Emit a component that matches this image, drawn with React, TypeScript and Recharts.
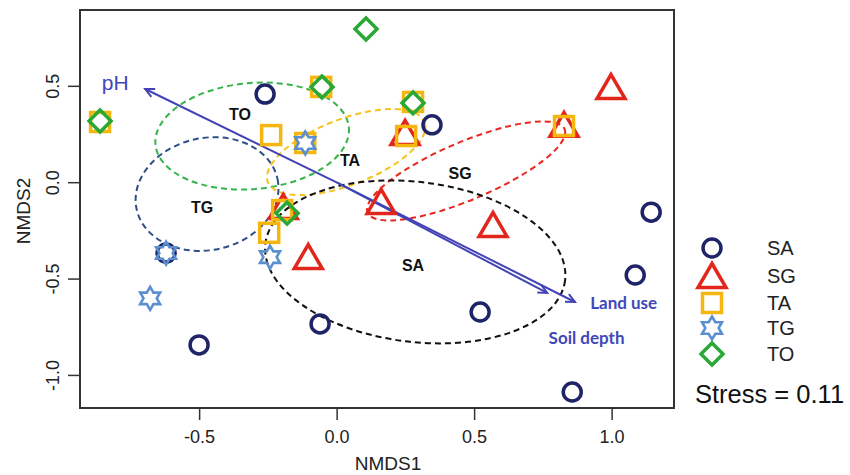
import {
  ReferenceArea,
  ReferenceDot,
  ReferenceLine,
  Label,
  Scatter,
  ScatterChart,
  XAxis,
  YAxis,
} from "recharts";

const FONT = "'Liberation Sans', Arial, sans-serif";
const VEC_FONT = "Lato, 'Open Sans', sans-serif";

// site scores, one pair of arrays per group
const SA_X = [-0.262, 0.345, 1.142, 1.084, 0.52, -0.062, -0.502, 0.855, -0.622];
const SA_Y = [0.46, 0.3, -0.153, -0.479, -0.671, -0.733, -0.842, -1.086, -0.365];
const SG_X = [0.996, 0.825, 0.247, 0.16, 0.567, -0.105, -0.196];
const SG_Y = [0.496, 0.3, 0.258, -0.1, -0.22, -0.386, -0.126];
const TA_X = [-0.862, -0.24, -0.058, 0.276, 0.251, 0.825, -0.116, -0.2, -0.247];
const TA_Y = [0.315, 0.247, 0.497, 0.419, 0.242, 0.294, 0.206, -0.142, -0.26];
const TG_X = [-0.116, -0.622, -0.244, -0.68];
const TG_Y = [0.206, -0.365, -0.386, -0.6];
const TO_X = [0.105, -0.055, 0.276, -0.862, -0.182];
const TO_Y = [0.797, 0.497, 0.414, 0.32, -0.158];

const GROUPS = ["SA", "SG", "TA", "TG", "TO"];
const COLORS: Record<string, string> = {
  SA: "#1f2468",
  SG: "#e3261c",
  TA: "#f5b60f",
  TG: "#5b8fce",
  TO: "#2aa836",
};
const ELL_COLORS: Record<string, string> = {
  SA: "#111111",
  SG: "#e8281f",
  TA: "#f6c21c",
  TG: "#2d4e86",
  TO: "#34b44a",
};

// group ellipses: centre, semi-axes (data units) and tilt in degrees
const ELL_GROUP = ["TO", "TG", "TA", "SG", "SA"];
const ELL_CX = [-0.309, -0.473, 0.033, 0.469, 0.284];
const ELL_CY = [0.242, -0.059, 0.159, 0.061, -0.411];
const ELL_RX = [0.353, 0.262, 0.305, 0.389, 0.549];
const ELL_RY = [0.275, 0.291, 0.171, 0.15, 0.415];
const ELL_TILT = [-5, -12, -21, -23, 7];

// group name labels
const LBL_TEXT = ["TO", "TA", "SG", "TG", "SA"];
const LBL_X = [-0.353, 0.047, 0.447, -0.491, 0.276];
const LBL_Y = [0.352, 0.118, 0.05, -0.127, -0.427];

// fitted environmental vectors
const VEC_NAME = ["pH", "Land use", "Soil depth"];
const VEC_X = [-0.698, 0.865, 0.764];
const VEC_Y = [0.486, -0.619, -0.572];
const VEC_LX = [-0.807, 1.042, 0.907];
const VEC_LY = [0.518, -0.625, -0.806];

const X_DOMAIN = [-0.935, 1.225];
const Y_DOMAIN = [-1.169, 0.896];
const X_TICKS = [-0.5, 0, 0.5, 1];
const Y_TICKS = [-1, -0.5, 0, 0.5];

const ARROW = "#4343b6";
const VEC_TEXT = "#4048bb";

const rows = (xs: number[], ys: number[]) => xs.map((x, i) => ({ x, y: ys[i] }));
const SERIES: Record<string, { x: number; y: number }[]> = {
  SA: rows(SA_X, SA_Y),
  SG: rows(SG_X, SG_Y),
  TA: rows(TA_X, TA_Y),
  TG: rows(TG_X, TG_Y),
  TO: rows(TO_X, TO_Y),
};

function hexagram(cx: number, cy: number, R: number) {
  const r = R / Math.sqrt(3);
  const pts: string[] = [];
  for (let k = 0; k < 12; k++) {
    const a = ((-90 + 30 * k) * Math.PI) / 180;
    const rad = k % 2 === 0 ? R : r;
    pts.push(`${cx + rad * Math.cos(a)},${cy + rad * Math.sin(a)}`);
  }
  return `M${pts.join("L")}Z`;
}

function Marker({ kind, cx, cy }: { kind: string; cx: number; cy: number }) {
  const c = COLORS[kind];
  const common = { fill: "none", stroke: c, strokeWidth: 3.5, strokeLinejoin: "miter" as const };
  switch (kind) {
    case "SA":
      return <circle cx={cx} cy={cy} r={9} {...common} />;
    case "SG":
      return (
        <path
          d={`M${cx},${cy - 12.5}L${cx + 14},${cy + 11.5}L${cx - 14},${cy + 11.5}Z`}
          {...common}
        />
      );
    case "TA":
      return <rect x={cx - 9.5} y={cy - 9.5} width={19} height={19} {...common} />;
    case "TG":
      return <path d={hexagram(cx, cy, 11.5)} {...common} strokeWidth={2.6} />;
    default:
      return (
        <path
          d={`M${cx},${cy - 11}L${cx + 11},${cy}L${cx},${cy + 11}L${cx - 11},${cy}Z`}
          {...common}
        />
      );
  }
}

const fmt = (v: number) => v.toFixed(1);

function XTick({ x, y, payload }: any) {
  return (
    <text x={x} y={y + 21} textAnchor="middle" fontSize={18} fill="#222" fontFamily={FONT}>
      {fmt(payload.value)}
    </text>
  );
}

function YTick({ x, y, payload }: any) {
  const cx = x - 13;
  return (
    <text
      x={cx}
      y={y}
      dy="0.35em"
      transform={`rotate(-90 ${cx} ${y})`}
      textAnchor="middle"
      fontSize={18}
      fill="#222"
      fontFamily={FONT}
    >
      {fmt(payload.value)}
    </text>
  );
}

function arrowShape(p: any) {
  const { x1, y1, x2, y2 } = p;
  const ang = Math.atan2(y2 - y1, x2 - x1);
  const L = 10;
  const A = Math.PI / 7;
  const h1 = `${x2 - L * Math.cos(ang - A)},${y2 - L * Math.sin(ang - A)}`;
  const h2 = `${x2 - L * Math.cos(ang + A)},${y2 - L * Math.sin(ang + A)}`;
  return (
    <g>
      <line x1={x1} y1={y1} x2={x2} y2={y2} stroke={ARROW} strokeWidth={2} />
      <path d={`M${h1}L${x2},${y2}L${h2}`} fill="none" stroke={ARROW} strokeWidth={2} />
    </g>
  );
}

function Legend() {
  const ys = [248, 276, 303, 328, 354];
  return (
    <svg
      width={850}
      height={475}
      style={{ position: "absolute", left: 0, top: 0, pointerEvents: "none" }}
    >
      {GROUPS.map((g, i) => (
        <g key={g}>
          <Marker kind={g} cx={712} cy={ys[i]} />
          <text x={767} y={ys[i] + 7} fontSize={20} fill="#222" fontFamily={FONT}>
            {g}
          </text>
        </g>
      ))}
      <text x={695} y={403} fontSize={25.5} fill="#111" fontFamily={FONT}>
        Stress = 0.11
      </text>
    </svg>
  );
}

export default function App() {
  return (
    <div style={{ position: "relative", width: 850, height: 475, background: "#fff" }}>
      <style>{"body{margin:0}"}</style>
      <ScatterChart width={850} height={475} margin={{ top: 10, right: 176, bottom: 27, left: 30 }}>
        <XAxis
          type="number"
          dataKey="x"
          domain={X_DOMAIN}
          allowDataOverflow
          ticks={X_TICKS}
          tick={<XTick />}
          tickSize={12}
          tickLine={{ stroke: "#333", strokeWidth: 1.5 }}
          axisLine={false}
          height={40}
        >
          <Label
            content={({ viewBox }: any) => (
              <text
                x={viewBox.x + viewBox.width / 2 + 11}
                y={viewBox.y + 62}
                textAnchor="middle"
                fontSize={19}
                fill="#222"
                fontFamily={FONT}
              >
                NMDS1
              </text>
            )}
          />
        </XAxis>
        <YAxis
          type="number"
          dataKey="y"
          domain={Y_DOMAIN}
          allowDataOverflow
          ticks={Y_TICKS}
          tick={<YTick />}
          tickSize={12}
          tickLine={{ stroke: "#333", strokeWidth: 1.5 }}
          axisLine={false}
          width={50}
        >
          <Label
            content={({ viewBox }: any) => {
              const cx = viewBox.x - 7;
              const cy = viewBox.y + viewBox.height / 2 + 2;
              return (
                <text
                  x={cx}
                  y={cy}
                  dy="0.35em"
                  transform={`rotate(-90 ${cx} ${cy})`}
                  textAnchor="middle"
                  fontSize={19}
                  fill="#222"
                  fontFamily={FONT}
                >
                  NMDS2
                </text>
              );
            }}
          />
        </YAxis>

        {GROUPS.map((g) => (
          <Scatter
            key={g}
            name={g}
            data={SERIES[g]}
            isAnimationActive={false}
            shape={(p: any) => <Marker kind={g} cx={p.cx} cy={p.cy} />}
          />
        ))}

        {ELL_GROUP.map((g, i) => (
          <ReferenceArea
            key={`ell-${g}`}
            x1={ELL_CX[i] - ELL_RX[i]}
            x2={ELL_CX[i] + ELL_RX[i]}
            y1={ELL_CY[i] - ELL_RY[i]}
            y2={ELL_CY[i] + ELL_RY[i]}
            ifOverflow="visible"
            shape={(p: any) => {
              const cx = p.x + p.width / 2;
              const cy = p.y + p.height / 2;
              return (
                <ellipse
                  cx={cx}
                  cy={cy}
                  rx={Math.abs(p.width) / 2}
                  ry={Math.abs(p.height) / 2}
                  transform={`rotate(${ELL_TILT[i]} ${cx} ${cy})`}
                  fill="none"
                  stroke={ELL_COLORS[g]}
                  strokeWidth={2}
                  strokeDasharray="6 4"
                />
              );
            }}
          />
        ))}

        {VEC_NAME.map((n, i) => (
          <ReferenceLine
            key={`vec-${n}`}
            segment={[
              { x: 0, y: 0 },
              { x: VEC_X[i], y: VEC_Y[i] },
            ]}
            ifOverflow="visible"
            shape={arrowShape}
          />
        ))}

        {VEC_NAME.map((n, i) => (
          <ReferenceDot
            key={`vl-${n}`}
            x={VEC_LX[i]}
            y={VEC_LY[i]}
            ifOverflow="visible"
            shape={(p: any) =>
              i === 0 ? (
                <text x={p.cx} y={p.cy} dy="0.35em" textAnchor="middle" fontSize={21} fill={VEC_TEXT} fontFamily={FONT}>
                  {n}
                </text>
              ) : (
                <text x={p.cx} y={p.cy} dy="0.35em" textAnchor="middle" fontSize={17} fontWeight="bold" fill={VEC_TEXT} fontFamily={VEC_FONT}>
                  {n}
                </text>
              )
            }
          />
        ))}

        {LBL_TEXT.map((t, i) => (
          <ReferenceDot
            key={`gl-${t}`}
            x={LBL_X[i]}
            y={LBL_Y[i]}
            ifOverflow="visible"
            shape={(p: any) => (
              <text x={p.cx} y={p.cy} dy="0.35em" textAnchor="middle" fontSize={16} fontWeight="bold" fill="#111" fontFamily={FONT}>
                {t}
              </text>
            )}
          />
        ))}

        <ReferenceArea
          x1={X_DOMAIN[0]}
          x2={X_DOMAIN[1]}
          y1={Y_DOMAIN[0]}
          y2={Y_DOMAIN[1]}
          fill="none"
          fillOpacity={0}
          stroke="#333"
          strokeWidth={2}
          ifOverflow="visible"
        />
      </ScatterChart>
      <Legend />
    </div>
  );
}
